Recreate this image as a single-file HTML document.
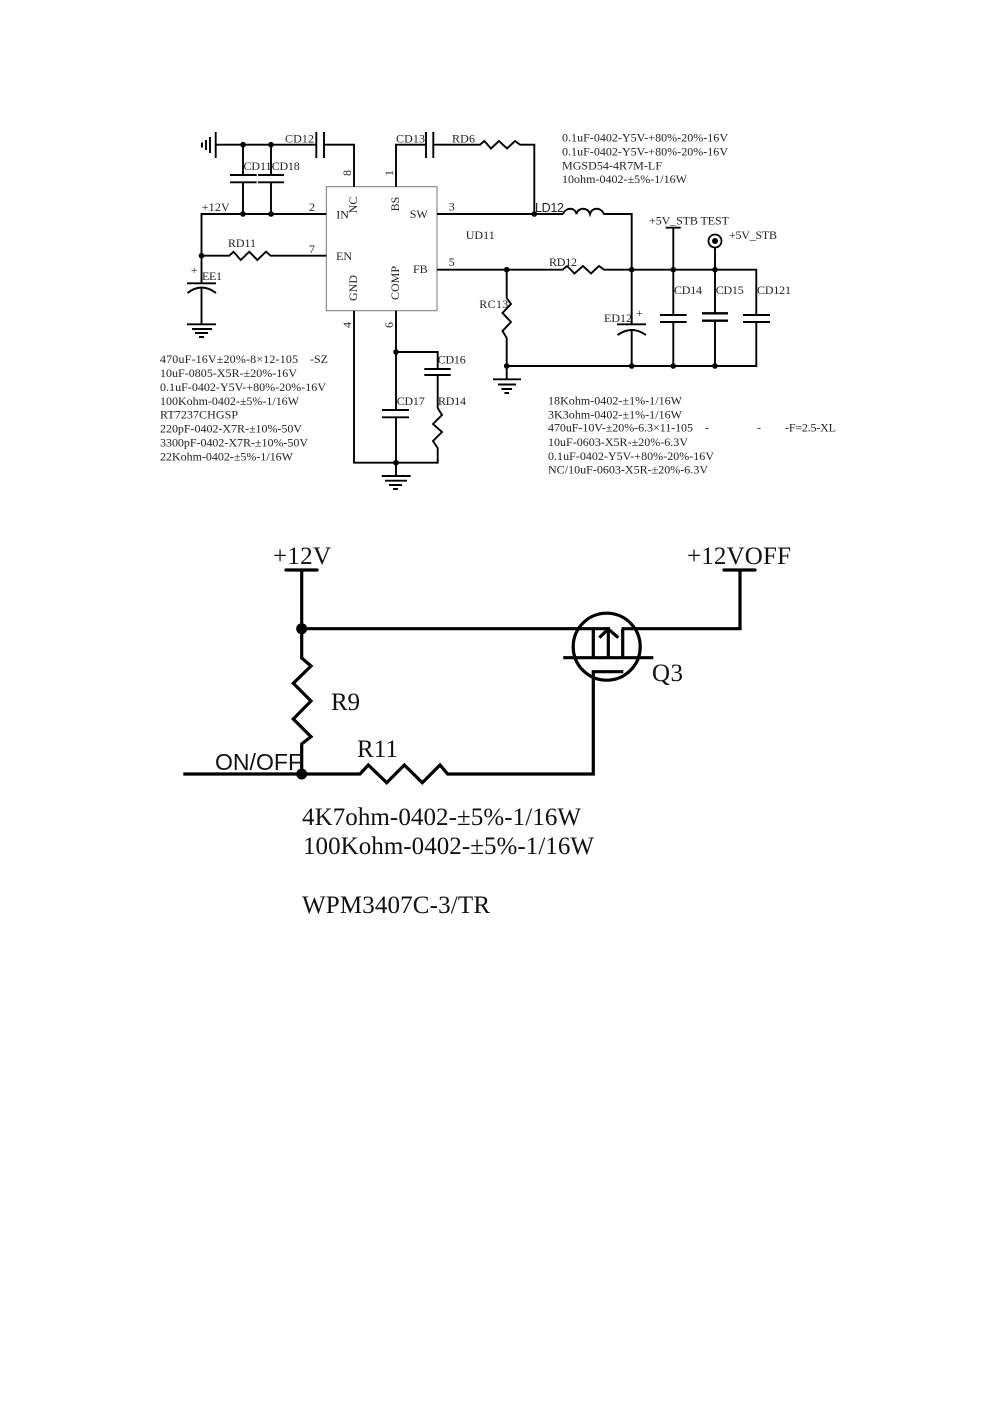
<!DOCTYPE html>
<html><head><meta charset="utf-8"><style>
html,body{margin:0;padding:0;background:#fff}
svg{display:block;filter:blur(.3px)}
text{font-family:"Liberation Serif",serif;fill:#222;font-size:12px}
.b{font-size:25px;fill:#111}
.w{fill:none;stroke:#000;stroke-width:1.9}
.t{fill:none;stroke:#000;stroke-width:3.2}
</style></head><body>
<svg width="993" height="1404" viewBox="0 0 993 1404" xmlns="http://www.w3.org/2000/svg">
<rect width="993" height="1404" fill="#fff"/>
<!-- IC -->
<rect x="326.3" y="186.7" width="110.7" height="124" fill="#fff" stroke="#777" stroke-width="1"/>
<g class="w">
<path d="M215.7 144.7H316.3M324 144.7H354V186.7"/>
<path d="M316.3 132V158M324 132V158"/>
<path d="M215.7 132V158M210 137V153M206 140V150M202 142.5V147.5"/>
<path d="M243 144.7V175M243 182.3V214M271 144.7V175M271 182.3V214"/>
<path d="M230 175H256.7M230 182.3H256.7M258 175H284M258 182.3H284"/>
<path d="M201.5 283V214H326.3"/>
<path d="M201.5 255.7H229.3L233.5 251.7L240.7 260L249.3 251.7L257.3 260L266 251.7L270.7 255.7H326.3"/>
<path d="M187 283.3H216M187.5 293Q201.5 282 216 293M201.5 288V324.3"/>
<path d="M187 324.3H216M192 329H212M195 333H208M199 337H204"/>
<path d="M396 186.7V144.7H426M426 132V158M433.3 132V158"/>
<path d="M433.3 144.7H480L484.3 141L491 148.5L499 141L507 148.5L515 141L520 144.7H534.3V214"/>
<path d="M437 214H563"/>
<path d="M563 214C566 207 575 207 576.5 214C578 207 588 207 590 214C592 207 601 207 604 214H631.7V324.3M631.7 330V366"/>
<path d="M437 269.7H562.7L567 266L574.5 273.5L583 266L591 273.5L599 266L604 269.7H756.3V315M756.3 322V366H506.7"/>
<path d="M506.7 269.7V298L511 304L502.5 313L511 322L502.5 331L506.7 338V379"/>
<path d="M493 379.3H521M498 384.5H516M501.5 389H512M504.5 393H509"/>
<path d="M617 324.3H646M617.5 335Q631.7 325 646 335"/>
<path d="M673.3 227.7V315M673.3 322V366M660 315H686.7M660 322H686.7M665.7 227.7H680.7"/>
<path d="M715 248V313.3M715 320.7V366"/>
<path d="M743 315H770M743 322H770"/>
<path d="M396 310.7V410M396 417.3V476M354 310.7V462.7H437.7V448L433 441L442 432L433 424L442 415L437.7 408V375M437.7 369V352H396"/>
<path d="M424.3 369H450.7M424.3 375H450.7M382 410H409M382 417.3H409"/>
<path d="M381.7 476H410.7M385 480.7H407M389 485H402M393 489H398"/>
</g>
<path d="M702 313.3H728M702 320.7H728" fill="none" stroke="#000" stroke-width="2.4"/>
<circle cx="715" cy="241" r="6.5" fill="none" stroke="#000" stroke-width="1.8"/>
<circle cx="715" cy="241" r="3" fill="#000"/>
<g fill="#000">
<circle cx="243" cy="144.7" r="2.8"/><circle cx="271" cy="144.7" r="2.8"/>
<circle cx="243" cy="214" r="2.8"/><circle cx="271" cy="214" r="2.8"/>
<circle cx="201.5" cy="255.7" r="2.8"/><circle cx="534.3" cy="214" r="2.8"/>
<circle cx="506.7" cy="269.7" r="2.8"/><circle cx="631.7" cy="269.7" r="2.8"/>
<circle cx="673.3" cy="269.7" r="2.8"/><circle cx="715" cy="269.7" r="2.8"/>
<circle cx="506.7" cy="366" r="2.8"/><circle cx="631.7" cy="366" r="2.8"/>
<circle cx="673.3" cy="366" r="2.8"/><circle cx="715" cy="366" r="2.8"/>
<circle cx="396" cy="352" r="2.8"/><circle cx="396" cy="462.7" r="2.8"/>
</g>
<!-- Top labels -->
<text x="285" y="142.7" textLength="29">CD12</text>
<text x="396" y="142.7" textLength="29">CD13</text>
<text x="452" y="142.5" textLength="23">RD6</text>
<text x="243.5" y="170" textLength="28">CD11</text>
<text x="271.7" y="170" textLength="28">CD18</text>
<text x="201.7" y="211" textLength="28">+12V</text>
<text x="309" y="211">2</text>
<text x="309" y="253">7</text>
<text x="336.3" y="218.3">IN</text>
<text x="336" y="260">EN</text>
<text x="409.7" y="218">SW</text>
<text x="413" y="273">FB</text>
<text transform="translate(357,205) rotate(-90)" text-anchor="middle">NC</text>
<text transform="translate(399,204) rotate(-90)" text-anchor="middle">BS</text>
<text transform="translate(357,288) rotate(-90)" text-anchor="middle">GND</text>
<text transform="translate(399,283) rotate(-90)" text-anchor="middle">COMP</text>
<text transform="translate(351,173) rotate(-90)" text-anchor="middle">8</text>
<text transform="translate(393,173) rotate(-90)" text-anchor="middle">1</text>
<text transform="translate(351,325) rotate(-90)" text-anchor="middle">4</text>
<text transform="translate(393,325) rotate(-90)" text-anchor="middle">6</text>
<text x="228" y="247" textLength="28">RD11</text>
<text x="190.7" y="274">+</text>
<text x="202" y="280" textLength="20">EE1</text>
<text x="448.7" y="210.7">3</text>
<text x="448.7" y="266">5</text>
<text x="465.7" y="239" textLength="29">UD11</text>
<text x="535" y="212" textLength="29" style="font-family:'Liberation Sans',sans-serif;font-size:12.5px">LD12</text>
<text x="549" y="266" textLength="28">RD12</text>
<text x="479.3" y="308" textLength="29">RC13</text>
<text x="604" y="322" textLength="28">ED12</text>
<text x="636" y="317">+</text>
<text x="674" y="294" textLength="28">CD14</text>
<text x="715.7" y="294" textLength="28">CD15</text>
<text x="757" y="294" textLength="34">CD121</text>
<text x="649" y="224.7" textLength="80">+5V_STB TEST</text>
<text x="729" y="239" textLength="48">+5V_STB</text>
<text x="437.7" y="363.3" textLength="28">CD16</text>
<text x="396.7" y="405" textLength="28">CD17</text>
<text x="438" y="405" textLength="28">RD14</text>
<!-- Part lists -->
<text x="562" y="141.7" textLength="166">0.1uF-0402-Y5V-+80%-20%-16V</text>
<text x="562" y="155.5" textLength="166">0.1uF-0402-Y5V-+80%-20%-16V</text>
<text x="562" y="169.3" textLength="100">MGSD54-4R7M-LF</text>
<text x="562" y="183" textLength="125">10ohm-0402-±5%-1/16W</text>
<text x="160" y="363" textLength="138">470uF-16V±20%-8×12-105</text>
<text x="310" y="363" textLength="18">-SZ</text>
<text x="160" y="377" textLength="137">10uF-0805-X5R-±20%-16V</text>
<text x="160" y="391" textLength="166">0.1uF-0402-Y5V-+80%-20%-16V</text>
<text x="160" y="405" textLength="139">100Kohm-0402-±5%-1/16W</text>
<text x="160" y="418.7" textLength="78">RT7237CHGSP</text>
<text x="160" y="432.7" textLength="142">220pF-0402-X7R-±10%-50V</text>
<text x="160" y="446.7" textLength="148">3300pF-0402-X7R-±10%-50V</text>
<text x="160" y="460.7" textLength="133">22Kohm-0402-±5%-1/16W</text>
<text x="548" y="404.3" textLength="134">18Kohm-0402-±1%-1/16W</text>
<text x="548" y="418.3" textLength="134">3K3ohm-0402-±1%-1/16W</text>
<text x="548" y="431.7" textLength="145">470uF-10V-±20%-6.3×11-105</text>
<text x="705" y="431.7">-</text>
<text x="757" y="431.7">-</text>
<text x="785" y="431.7" textLength="51">-F=2.5-XL</text>
<text x="548" y="446" textLength="140">10uF-0603-X5R-±20%-6.3V</text>
<text x="548" y="460" textLength="166">0.1uF-0402-Y5V-+80%-20%-16V</text>
<text x="548" y="473.7" textLength="160">NC/10uF-0603-X5R-±20%-6.3V</text>
<!-- Bottom circuit -->
<g class="t">
<path d="M286 570H317M724 570H755" stroke-linecap="round"/>
<path d="M301.7 570V658L311 666L293.3 683.3L311 701L293.3 719L311 736.7L301.7 744V774"/>
<path d="M301.7 628.7H610M621.7 628.7H740V570"/>
<path d="M183.3 774H360L368.3 765L386.7 782.7L404.3 765L422.3 782.7L440 765L447.7 774H593.3V671.7H623.3"/>
<path d="M593.3 628.7V657.7M608.3 630V657.7M622.7 628.7V657.7M563.3 657.7H653.3"/>
<path d="M599.3 637.7L608.3 629L618.3 637.7"/>
<circle cx="606.7" cy="646.7" r="33.5"/>
</g>
<circle cx="301.7" cy="628.7" r="5.5" fill="#000"/>
<circle cx="301.7" cy="774" r="5.5" fill="#000"/>
<text class="b" x="273" y="564" textLength="58">+12V</text>
<text class="b" x="687" y="564" textLength="104">+12VOFF</text>
<text class="b" x="652" y="681" textLength="31">Q3</text>
<text class="b" x="331" y="710" textLength="29">R9</text>
<text class="b" x="357" y="757" textLength="41">R11</text>
<text x="215" y="770" textLength="87" style="font-family:'Liberation Sans',sans-serif;font-size:23px;fill:#111">ON/OFF</text>
<text class="b" x="302" y="825" textLength="279">4K7ohm-0402-±5%-1/16W</text>
<text class="b" x="303" y="854" textLength="291">100Kohm-0402-±5%-1/16W</text>
<text class="b" x="302" y="913" textLength="188">WPM3407C-3/TR</text>
</svg>
</body></html>
